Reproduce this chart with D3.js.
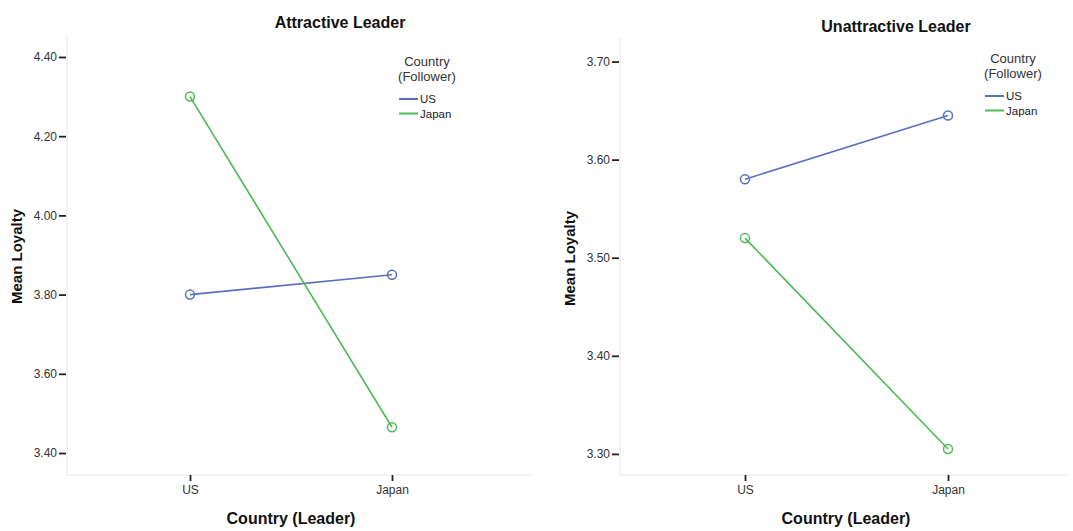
<!DOCTYPE html>
<html><head><meta charset="utf-8">
<script src="https://cdn.jsdelivr.net/npm/d3@7"></script>
<style>body{margin:0;background:#fff}svg{display:block}</style>
</head><body>
<svg id="c" width="1073" height="531"></svg>
<script>
const leaderCountries = ["US", "Japan"];
const followerSeries = ["US", "Japan"];
const attractiveUS = [3.80, 3.85];
const attractiveJapan = [4.30, 3.465];
const unattractiveUS = [3.58, 3.645];
const unattractiveJapan = [3.52, 3.305];
const attractiveTicks = [3.40, 3.60, 3.80, 4.00, 4.20, 4.40];
const unattractiveTicks = [3.30, 3.40, 3.50, 3.60, 3.70];
const colors = {US: "#5b6fc2", Japan: "#4dbb55"};

const svg = d3.select("#c");
const font = "Arial, 'Liberation Sans', sans-serif";

function panel(cfg) {
  const g = svg.append("g");
  const x = d3.scalePoint().domain(leaderCountries).range(cfg.xr);
  const y = d3.scaleLinear().domain(cfg.domain).range([cfg.bottom, cfg.top]);
  g.append("line").attr("x1", cfg.left).attr("x2", cfg.left).attr("y1", cfg.top).attr("y2", cfg.bottom)
    .attr("stroke", "#e6e6e6").attr("stroke-width", 1);
  g.append("line").attr("x1", cfg.left).attr("x2", cfg.right).attr("y1", cfg.bottom).attr("y2", cfg.bottom)
    .attr("stroke", "#e6e6e6").attr("stroke-width", 1);
  const ya = d3.axisLeft(y).tickValues(cfg.ticks).tickFormat(d3.format(".2f")).tickSize(7).tickPadding(2);
  const yg = g.append("g").attr("transform", `translate(${cfg.left - 1},0)`).call(ya);
  yg.select(".domain").remove();
  yg.selectAll(".tick line").attr("stroke", "#222").attr("stroke-width", 1.8);
  yg.selectAll("text").attr("font-family", font).attr("font-size", 12).attr("fill", "#333");
  const xa = d3.axisBottom(x).tickSize(6).tickPadding(4);
  const xg = g.append("g").attr("transform", `translate(0,${cfg.bottom})`).call(xa);
  xg.select(".domain").remove();
  xg.selectAll(".tick line").attr("stroke", "#222").attr("stroke-width", 1.8);
  xg.selectAll("text").attr("font-family", font).attr("font-size", 12).attr("fill", "#333");
  g.append("text").attr("x", cfg.titleX).attr("y", cfg.titleY).attr("text-anchor", "middle")
    .attr("font-family", font).attr("font-weight", "bold").attr("font-size", 16).attr("fill", "#111").text(cfg.title);
  g.append("text").attr("transform", `translate(${cfg.ylabX},${(cfg.top + cfg.bottom) / 2 + 2}) rotate(-90)`)
    .attr("text-anchor", "middle").attr("font-family", font).attr("font-weight", "bold").attr("font-size", 15)
    .attr("fill", "#111").text("Mean Loyalty");
  g.append("text").attr("x", cfg.xlabX).attr("y", 524).attr("text-anchor", "middle")
    .attr("font-family", font).attr("font-weight", "bold").attr("font-size", 16).attr("fill", "#111").text("Country (Leader)");
  const line = d3.line().x((d, i) => x(leaderCountries[i])).y(d => y(d));
  cfg.series.forEach(s => {
    g.append("path").datum(s.values).attr("d", line).attr("fill", "none")
      .attr("stroke", colors[s.name]).attr("stroke-width", 1.6);
    g.selectAll(null).data(s.values).enter().append("circle")
      .attr("cx", (d, i) => x(leaderCountries[i])).attr("cy", d => y(d)).attr("r", 4.5)
      .attr("fill", "none").attr("stroke", colors[s.name]).attr("stroke-width", 1.5);
  });
  const lg = g.append("g");
  lg.append("text").attr("x", cfg.legX).attr("y", cfg.legY).attr("text-anchor", "middle")
    .attr("font-family", font).attr("font-size", 13).attr("fill", "#333").text("Country");
  lg.append("text").attr("x", cfg.legX).attr("y", cfg.legY + 15).attr("text-anchor", "middle")
    .attr("font-family", font).attr("font-size", 13).attr("fill", "#333").text("(Follower)");
  followerSeries.forEach((name, i) => {
    const yy = cfg.legY + 33 + i * 14.5;
    lg.append("line").attr("x1", cfg.legX - 28).attr("x2", cfg.legX - 9).attr("y1", yy).attr("y2", yy)
      .attr("stroke", colors[name]).attr("stroke-width", 2);
    lg.append("text").attr("x", cfg.legX - 7).attr("y", yy + 4).attr("font-family", font)
      .attr("font-size", 11.5).attr("fill", "#222").text(name);
  });
}

panel({
  left: 67, right: 532, top: 34, bottom: 475, xr: [190, 392], domain: [3.3445, 4.458],
  ticks: attractiveTicks, title: "Attractive Leader", titleX: 340, titleY: 28, ylabX: 22, xlabX: 291,
  legX: 427, legY: 66,
  series: [{name: "US", values: attractiveUS}, {name: "Japan", values: attractiveJapan}]
});
panel({
  left: 620, right: 1068, top: 38, bottom: 475, xr: [745, 948], domain: [3.2785, 3.724],
  ticks: unattractiveTicks, title: "Unattractive Leader", titleX: 896, titleY: 32, ylabX: 575, xlabX: 846,
  legX: 1013, legY: 63,
  series: [{name: "US", values: unattractiveUS}, {name: "Japan", values: unattractiveJapan}]
});
</script>
</body></html>
